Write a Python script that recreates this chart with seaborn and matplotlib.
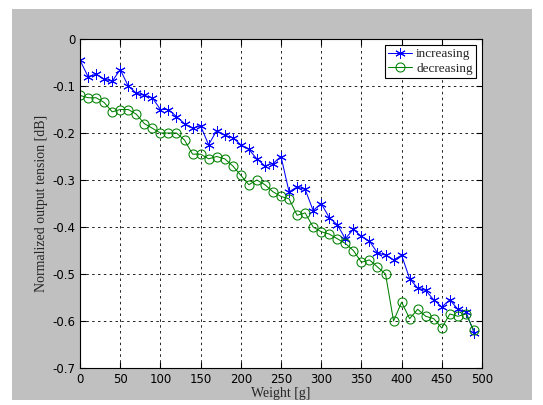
import pandas as pd
import numpy as np
import matplotlib.pyplot as plt
import seaborn as sns
from matplotlib.patches import Rectangle

# weights [g]
weight = list(range(0, 500, 10))

# increasing load
increasing = [-0.045, -0.08, -0.075, -0.085, -0.09, -0.065, -0.10, -0.115, -0.12, -0.125,
              -0.15, -0.15, -0.165, -0.18, -0.19, -0.185, -0.225, -0.195, -0.205, -0.21,
              -0.225, -0.235, -0.255, -0.27, -0.265, -0.25, -0.325, -0.315, -0.32, -0.365,
              -0.35, -0.38, -0.395, -0.425, -0.405, -0.42, -0.43, -0.455, -0.46, -0.47,
              -0.46, -0.51, -0.53, -0.535, -0.555, -0.57, -0.555, -0.575, -0.58, -0.625]

# decreasing load
decreasing = [-0.12, -0.125, -0.125, -0.135, -0.155, -0.15, -0.15, -0.16, -0.18, -0.19,
              -0.2, -0.2, -0.2, -0.215, -0.245, -0.245, -0.255, -0.25, -0.255, -0.27,
              -0.29, -0.31, -0.3, -0.31, -0.325, -0.335, -0.34, -0.375, -0.37, -0.4,
              -0.41, -0.415, -0.425, -0.435, -0.45, -0.475, -0.47, -0.485, -0.5, -0.6,
              -0.56, -0.595, -0.575, -0.59, -0.595, -0.615, -0.585, -0.59, -0.585, -0.62]

xticks = [0, 50, 100, 150, 200, 250, 300, 350, 400, 450, 500]
yticks = [-0.7, -0.6, -0.5, -0.4, -0.3, -0.2, -0.1, 0]
ytick_labels = ['-0.7', '-0.6', '-0.5', '-0.4', '-0.3', '-0.2', '-0.1', '0']

df = pd.DataFrame({'Weight': weight, 'increasing': increasing, 'decreasing': decreasing})

sns.set_style('ticks')
plt.rcParams['font.family'] = ['DejaVu Sans']

fig = plt.figure(figsize=(5.43, 4.05), dpi=100)
fig.patch.set_facecolor('white')
fig.patches.append(Rectangle((12 / 543, 5 / 405), 520 / 543, 391 / 405,
                             transform=fig.transFigure, facecolor='#c0c0c0',
                             edgecolor='none', zorder=-1))

ax = fig.add_axes([80 / 543, 37 / 405, 402 / 543, 329 / 405])
ax.set_facecolor('white')

# MATLAB-like asterisk marker
sns.lineplot(x='Weight', y='increasing', data=df, ax=ax, color='blue', marker=(6, 2, 0),
             markersize=7.5, markeredgewidth=0.7, markeredgecolor='blue',
             linewidth=0.75, label='increasing')
sns.lineplot(x='Weight', y='decreasing', data=df, ax=ax, color='green', marker='o',
             markersize=6.5, markerfacecolor='none', markeredgecolor='green',
             markeredgewidth=0.75, linewidth=0.75, label='decreasing')

ax.set_xlim(0, 500)
ax.set_ylim(-0.7, 0)
ax.set_xticks(xticks)
ax.set_yticks(yticks)
ax.set_yticklabels(ytick_labels)
ax.tick_params(direction='in', length=4, labelsize=8.5, colors='black', top=True, right=True)
ax.grid(True, color='black', linestyle=(0, (3, 4)), linewidth=0.6)
for s in ax.spines.values():
    s.set_color('black')
    s.set_linewidth(0.8)

ax.set_xlabel('Weight [g]', family='Liberation Serif', fontsize=10, labelpad=1)
ax.set_ylabel('Normalized output tension [dB]', family='Liberation Serif', fontsize=10, labelpad=3)

leg = ax.legend(loc='upper right', prop={'family': 'Liberation Serif', 'size': 9.5},
                frameon=True, fancybox=False, framealpha=1, edgecolor='black',
                borderpad=0.25, handlelength=1.8, handletextpad=0.3, labelspacing=0.15,
                borderaxespad=0.45)
leg.get_frame().set_linewidth(0.8)

plt.savefig('out.png', dpi=100, facecolor=fig.get_facecolor())
